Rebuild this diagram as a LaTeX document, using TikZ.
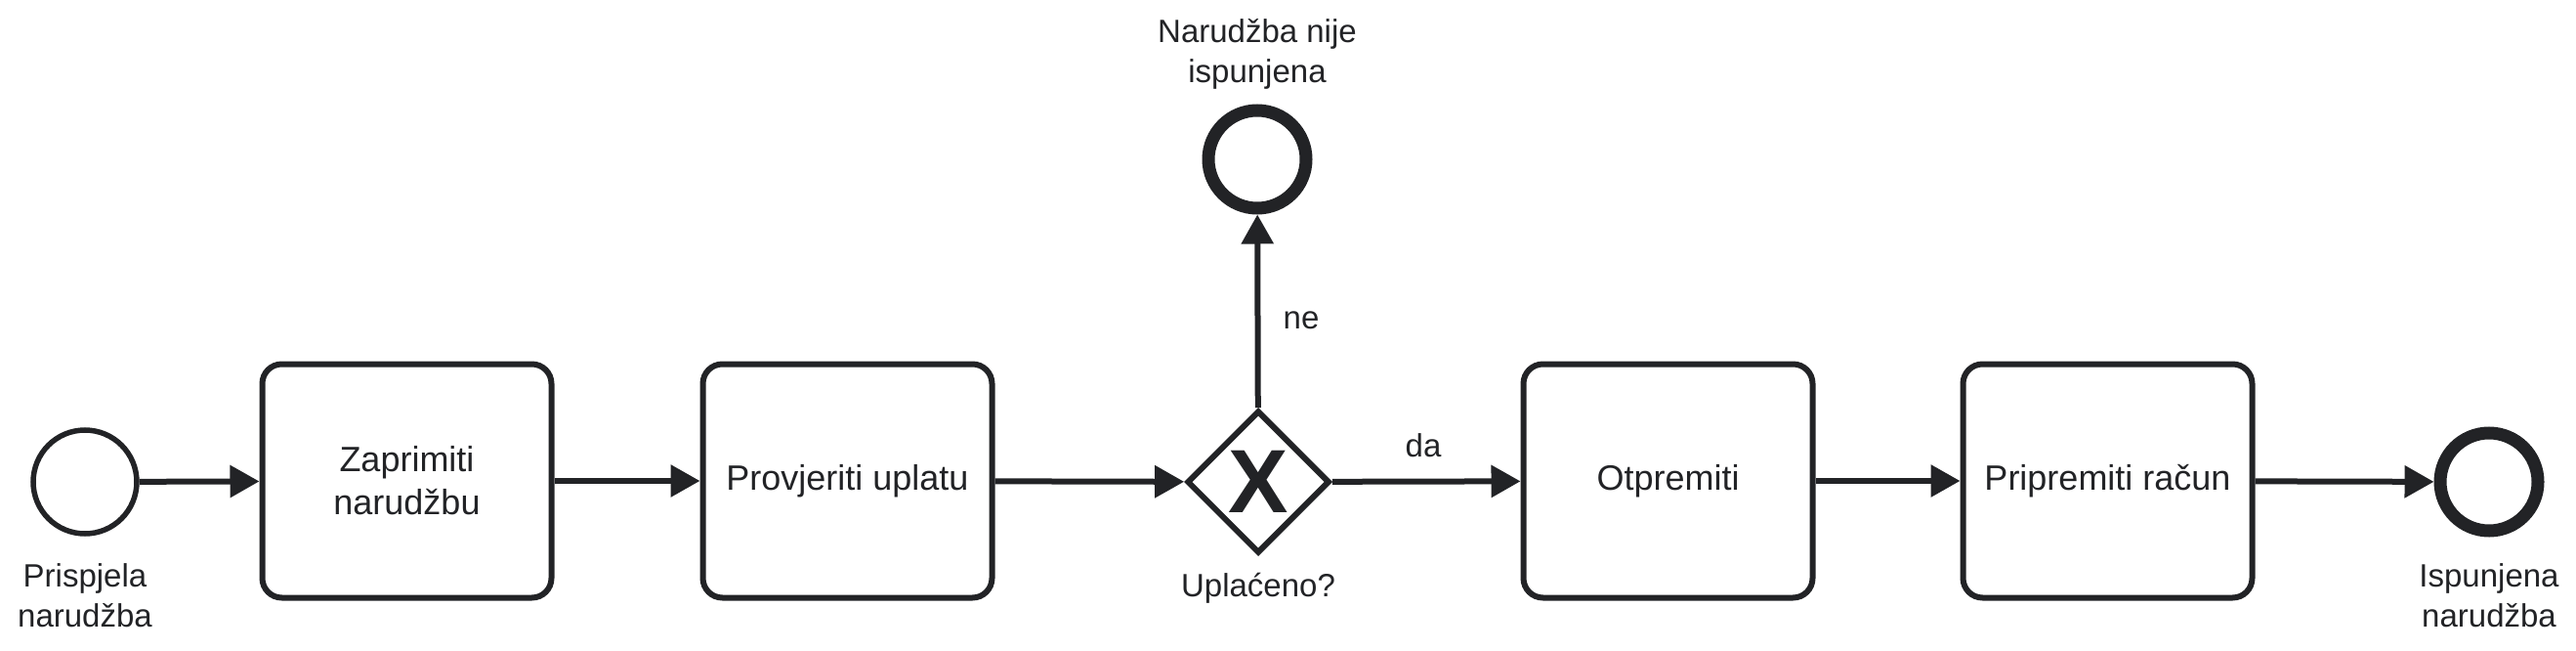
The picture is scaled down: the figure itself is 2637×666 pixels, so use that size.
\documentclass[tikz,border=0pt]{standalone}
\usepackage{fontspec}
\setmainfont{Liberation Sans}
\usetikzlibrary{shapes.geometric,arrows.meta}
\definecolor{ink}{RGB}{34,35,38}
\begin{document}
\begin{tikzpicture}[x=1pt,y=-1pt,
  every node/.style={text=ink,font=\fontsize{33}{41}\selectfont},
  task/.style={draw=ink,line width=6pt,rounded corners=20pt,minimum width=296pt,minimum height=239pt,inner sep=0pt,align=center,font=\fontsize{36}{44}\selectfont},
  startev/.style={draw=ink,circle,line width=5.5pt,minimum size=106pt,inner sep=0pt},
  endev/.style={draw=ink,circle,line width=13pt,minimum size=100pt,inner sep=0pt},
  gate/.style={draw=ink,diamond,line width=6pt,minimum width=146pt,minimum height=146pt,inner sep=0pt,aspect=1},
  lbl/.style={align=center},
  flow/.style={draw=ink,line width=6pt,-{Triangle[length=30pt,width=32pt]}}
]
\useasboundingbox (0,0) rectangle (2637,666);
\node[startev] (s) at (87,493) {};
\node[task] (t1) at (416.5,492) {Zaprimiti\\narudžbu};
\node[task] (t2) at (867.5,492) {Provjeriti uplatu};
\node[gate] (g) at (1288,493) {};
\node[font=\fontsize{92}{92}\bfseries\selectfont,inner sep=0pt] (gx) at (1288,493) {X};
\node[endev] (e1) at (1287,163) {};
\node[task] (t3) at (1707.5,492) {Otpremiti};
\node[task] (t4) at (2157.5,492) {Pripremiti račun};
\node[endev] (e2) at (2548,493) {};
\node[lbl] (ls) at (87,609) {Prispjela\\narudžba};
\node[lbl] (le2) at (2548,609) {Ispunjena\\narudžba};
\node[lbl] (le1) at (1287,55) {Narudžba nije\\ispunjena};
\node (lg) at (1288,602) {Uplaćeno?};
\node (lne) at (1332,328) {ne};
\node (lda) at (1457,456) {da};
\draw[flow] (s) -- (t1);
\draw[flow] (t1) -- (t2);
\draw[flow] (t2) -- (g);
\draw[flow] (g) -- (t3);
\draw[flow] (g) -- (e1);
\draw[flow] (t3) -- (t4);
\draw[flow] (t4) -- (e2);
\end{tikzpicture}
\end{document}
